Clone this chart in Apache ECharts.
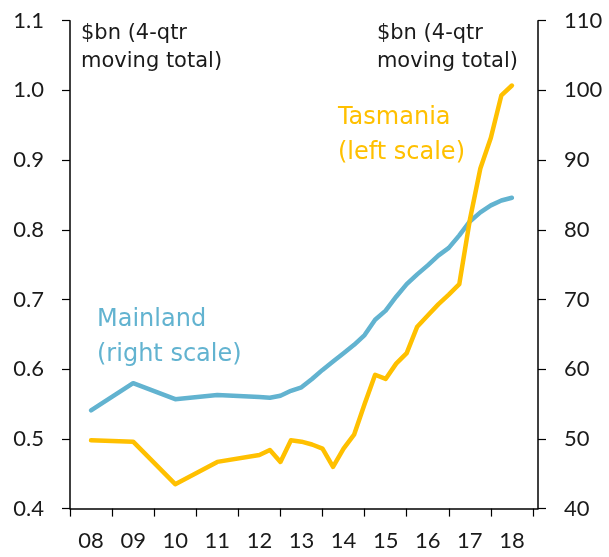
<!DOCTYPE html>
<html>
<head>
<meta charset="utf-8">
<script src="https://cdn.jsdelivr.net/npm/echarts@6/dist/echarts.min.js"></script>
<style>
  html, body { margin: 0; padding: 0; background: #fff; }
  #chart { width: 609px; height: 557px; }
</style>
</head>
<body>
<div id="chart"></div>
<script>
// periods: annual (June) to 2012, quarterly after
const periods = [
  "2008-Q2", "2009-Q2", "2010-Q2", "2011-Q2", "2012-Q2", "2012-Q3", "2012-Q4",
  "2013-Q1", "2013-Q2", "2013-Q3", "2013-Q4",
  "2014-Q1", "2014-Q2", "2014-Q3", "2014-Q4",
  "2015-Q1", "2015-Q2", "2015-Q3", "2015-Q4",
  "2016-Q1", "2016-Q2", "2016-Q3", "2016-Q4",
  "2017-Q1", "2017-Q2", "2017-Q3", "2017-Q4",
  "2018-Q1", "2018-Q2"
];
// Tasmania, $bn, left scale
const tasmania = [
  0.498, 0.496, 0.435, 0.467, 0.477, 0.484, 0.467,
  0.498, 0.496, 0.492, 0.486,
  0.460, 0.486, 0.506, 0.550,
  0.592, 0.586, 0.608, 0.623,
  0.661, 0.677, 0.693, 0.707,
  0.722, 0.814, 0.888, 0.932,
  0.993, 1.007
];
// Mainland, $bn, right scale
const mainland = [
  54.1, 58.0, 55.7, 56.3, 56.0, 55.9, 56.2,
  56.9, 57.4, 58.6, 59.9,
  61.1, 62.3, 63.5, 64.9,
  67.1, 68.4, 70.4, 72.2,
  73.6, 74.9, 76.3, 77.4,
  79.2, 81.2, 82.5, 83.5,
  84.2, 84.6
];
const yearLabels = ["08", "09", "10", "11", "12", "13", "14", "15", "16", "17", "18"];

// quarter end as decimal year
const toYear = p => {
  const [y, q] = p.split("-Q");
  return Number(y) + Number(q) / 4;
};

const FONT = "Lato";
const NOTE_FONT = "DejaVu Sans";
const TEXT = "#1a1a1a";
const YELLOW = "#ffc000";
const BLUE = "#62b3d0";

const chart = echarts.init(document.getElementById("chart"));

chart.setOption({
  animation: false,
  textStyle: { fontFamily: FONT },
  grid: [
    { left: 70, right: 71, top: 20.7, bottom: 48.4 },
    { left: 70, right: 76, top: 20.7, bottom: 48.4 }
  ],
  xAxis: [
    {
      type: "value", gridIndex: 0, min: 2008, max: 2019.12,
      axisLine: { show: true, lineStyle: { color: "#000", width: 1.5 } },
      axisTick: { show: false }, axisLabel: { show: false }, splitLine: { show: false }
    },
    {
      type: "category", gridIndex: 1, data: yearLabels, boundaryGap: true,
      axisLine: { show: false },
      axisTick: { show: true, length: 8, alignWithLabel: false, lineStyle: { color: "#000", width: 1.2 } },
      axisLabel: { color: TEXT, fontSize: 22, margin: 21, fontFamily: FONT, interval: 0 },
      splitLine: { show: false }
    }
  ],
  yAxis: [
    {
      type: "value", gridIndex: 0, position: "left", min: 0.4, max: 1.1, interval: 0.1,
      axisLine: { show: true, lineStyle: { color: "#000", width: 1.5 } },
      axisTick: { show: true, length: 8, lineStyle: { color: "#000", width: 1.2 } },
      axisLabel: { color: TEXT, fontSize: 22, margin: 26, fontFamily: FONT, formatter: v => v.toFixed(1) },
      splitLine: { show: false }
    },
    {
      type: "value", gridIndex: 0, position: "right", min: 40, max: 110, interval: 10,
      axisLine: { show: true, lineStyle: { color: "#000", width: 1.5 } },
      axisTick: { show: true, length: 8, lineStyle: { color: "#000", width: 1.2 } },
      axisLabel: { color: TEXT, fontSize: 22, margin: 26, fontFamily: FONT },
      splitLine: { show: false }
    },
    { type: "value", gridIndex: 1, show: false, min: 0, max: 1 }
  ],
  series: [
    {
      name: "Mainland", type: "line", xAxisIndex: 0, yAxisIndex: 1,
      data: periods.map((p, i) => [toYear(p), mainland[i]]),
      showSymbol: false, lineStyle: { color: BLUE, width: 4.5, join: "round", cap: "round" }
    },
    {
      name: "Tasmania", type: "line", xAxisIndex: 0, yAxisIndex: 0,
      data: periods.map((p, i) => [toYear(p), tasmania[i]]),
      showSymbol: false, lineStyle: { color: YELLOW, width: 4.5, join: "round", cap: "round" }
    }
  ],
  graphic: [
    {
      type: "text", left: 81, top: 20,
      style: { text: "$bn (4-qtr\nmoving total)", fill: TEXT, font: "21px '" + NOTE_FONT + "'", lineHeight: 28 }
    },
    {
      type: "text", right: 91, top: 20,
      style: { text: "$bn (4-qtr\nmoving total)", fill: TEXT, font: "21px '" + NOTE_FONT + "'", lineHeight: 28, align: "right" }
    },
    {
      type: "text", right: 144, top: 100,
      style: { text: "Tasmania\n(left scale)", fill: YELLOW, font: "24px '" + NOTE_FONT + "'", lineHeight: 35, align: "right" }
    },
    {
      type: "text", left: 97, top: 302,
      style: { text: "Mainland\n(right scale)", fill: BLUE, font: "24px '" + NOTE_FONT + "'", lineHeight: 35 }
    }
  ]
});
</script>
</body>
</html>
